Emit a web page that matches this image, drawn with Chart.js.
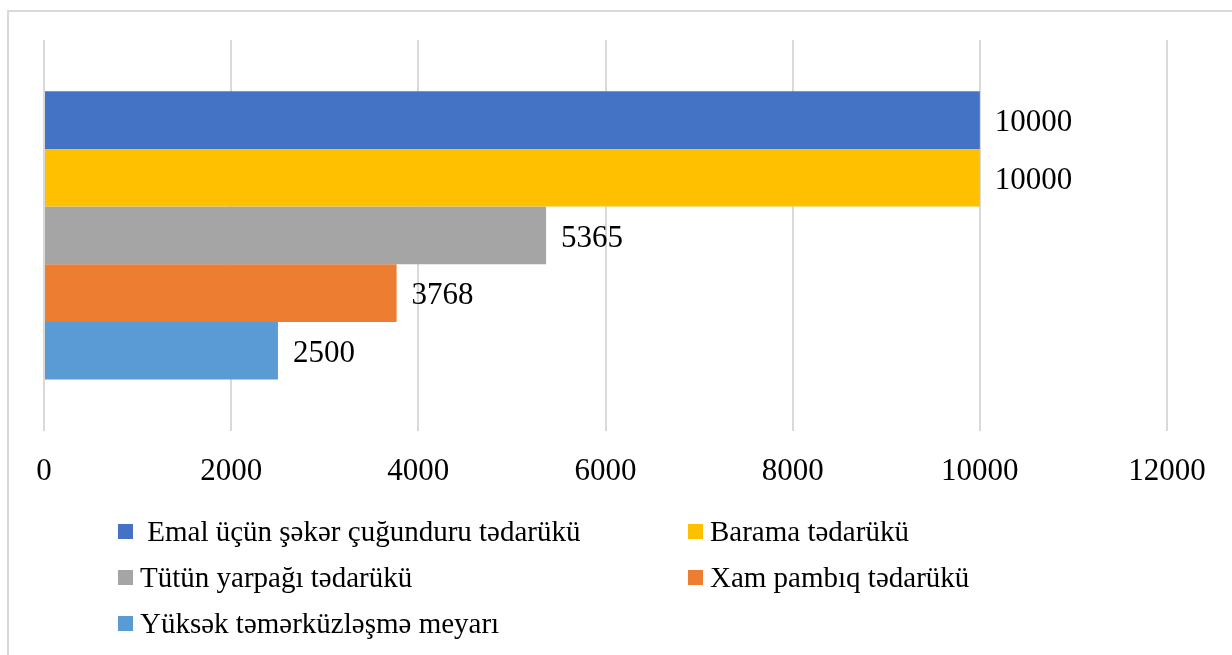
<!DOCTYPE html>
<html>
<head>
<meta charset="utf-8">
<script src="https://cdn.jsdelivr.net/npm/chart.js@4"></script>
<style>
  body { margin: 0; background: #fff; width: 1232px; height: 655px; overflow: hidden; position: relative; }
  #frame { position: absolute; left: 7px; top: 10px; width: 1240px; height: 660px; border: 2px solid #d9d9d9; box-sizing: border-box; }
  #wrap { position: absolute; left: 0; top: 0; width: 1232px; height: 523px; }
  #legend { position: absolute; left: 118px; top: 508px; display: grid; grid-template-columns: 570px 400px; font-family: "Liberation Serif", "Times New Roman", serif; font-size: 29px; color: #000; }
  .item { display: flex; align-items: center; height: 46px; white-space: pre; }
  .box { width: 15px; height: 15px; margin-right: 7px; flex: none; }
</style>
</head>
<body>
<div id="frame"></div>
<div id="wrap"><canvas id="myChart"></canvas></div>
<div id="legend"></div>
<script>
// kateqoriya (tək) və seriyalar
var categories = [""];
var seriesNames = [" Emal üçün şəkər çuğunduru tədarükü", "Barama tədarükü", "Tütün yarpağı tədarükü", "Xam pambıq tədarükü", "Yüksək təmərküzləşmə meyarı"];
var seriesValues = [10000, 10000, 5365, 3768, 2500];
var seriesColors = ["#4472C4", "#FFC000", "#A5A5A5", "#ED7D31", "#5B9BD5"];
var xTicks = [0, 2000, 4000, 6000, 8000, 10000, 12000];

var serif = "'Liberation Serif', 'Times New Roman', serif";

// rəqəmləri barların sonunda yazmaq
var valueLabels = {
  id: "valueLabels",
  afterDatasetsDraw: function (chart) {
    var c = chart.ctx;
    c.save();
    c.font = "31px " + serif;
    c.fillStyle = "#000";
    c.textAlign = "left";
    c.textBaseline = "middle";
    chart.data.datasets.forEach(function (ds, i) {
      var el = chart.getDatasetMeta(i).data[0];
      c.fillText(String(ds.data[0]), el.x + 15, el.y + 3);
    });
    c.restore();
  },
};

var datasets = seriesNames.map(function (name, i) {
  return {
    label: name,
    data: [seriesValues[i]],
    backgroundColor: seriesColors[i],
    borderWidth: 0,
    barPercentage: 1,
    categoryPercentage: 0.738,
  };
});

var ctx = document.getElementById("myChart");
var chart = new Chart(ctx, {
  type: "bar",
  data: { labels: categories, datasets: datasets },
  plugins: [valueLabels],
  options: {
    indexAxis: "y",
    responsive: true,
    maintainAspectRatio: false,
    animation: false,
    layout: { padding: { left: 44, right: 65, top: 40, bottom: 11 } },
    plugins: { legend: { display: false }, tooltip: { enabled: false } },
    scales: {
      x: {
        min: 0,
        max: 12000,
        afterBuildTicks: function (axis) {
          axis.ticks = xTicks.map(function (v) { return { value: v }; });
        },
        grid: { color: "#d9d9d9", lineWidth: 2, drawTicks: false },
        border: { display: false },
        ticks: {
          color: "#000",
          padding: 22,
          maxRotation: 0,
          font: { family: serif, size: 31 },
          callback: function (v) { return String(v); },
        },
      },
      y: { display: false },
    },
  },
});

// legend HTML
var legend = document.getElementById("legend");
datasets.forEach(function (ds) {
  var item = document.createElement("div");
  item.className = "item";
  var box = document.createElement("span");
  box.className = "box";
  box.style.background = ds.backgroundColor;
  var txt = document.createElement("span");
  txt.textContent = ds.label;
  item.appendChild(box);
  item.appendChild(txt);
  legend.appendChild(item);
});
</script>
</body>
</html>
